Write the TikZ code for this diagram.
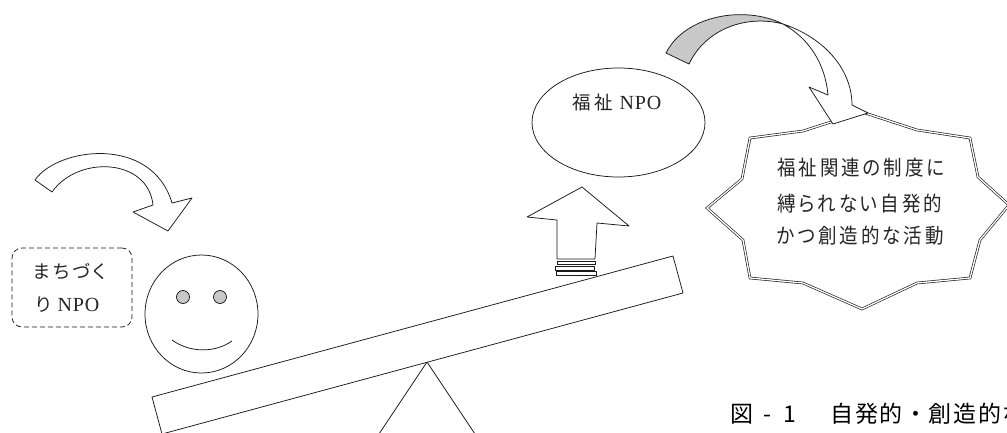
\documentclass[tikz,border=0pt]{standalone}
\usepackage{fontspec}
\newfontfamily\jp{Noto Sans CJK JP}[LetterSpace=16,RawFeature=+palt]
\newfontfamily\capfont{Noto Sans CJK JP}[LetterSpace=7]
\newfontfamily\lat{Liberation Serif}[LetterSpace=4]
\definecolor{shade}{RGB}{200,200,200}
\newcommand{\tall}[1]{\scalebox{1}[1.12]{#1}}
\begin{document}
\begin{tikzpicture}[x=1pt,y=-1pt,
  ln/.style={line width=0.75pt, draw=black!90, line join=round},
  dbl/.style={draw=black!90, line width=0.65pt, double=white, double distance=1.3pt, line join=miter},
  small/.style={inner sep=0pt, font=\jp\fontsize{18.5}{22}\selectfont, text=black!85},
]
\useasboundingbox (0,0) rectangle (1007,432);
\fill[white] (0,0) rectangle (1007,432);

% fulcrum and plank of the seesaw
\coordinate (apex) at (427,362);
\coordinate (legL) at (375,440);
\coordinate (legR) at (479,440);
\draw[ln] (legL) -- (apex) -- (legR);
\draw[ln, fill=white] (152,397) -- (673,256) -- (683,293) -- (162,434) -- cycle;

% smiling face
\draw[ln] (201.5,314) ellipse [x radius=56.5pt, y radius=59pt];
\draw[ln, fill=shade] (183,297) circle [radius=6.5pt];
\draw[ln, fill=shade] (220,297) circle [radius=6.5pt];
\draw[ln] (172,340) .. controls (190,353) and (215,353) .. (232,341);

% curved arrow over the face
\draw[ln, fill=white] (35,180) .. controls (58,147) and (152,135) .. (172,203)
  -- (192,198) -- (168,231) -- (133,212) -- (153,205)
  .. controls (148,158) and (78,155) .. (52,192) -- cycle;

% dashed label box
\node[draw=black!90, line width=0.75pt, dashed, dash pattern=on 5pt off 3pt,
      rounded corners=10pt, minimum width=120pt, minimum height=79pt] (mbox) at (72,287.5) {};
\node[small, anchor=west] (m1) at (33,271) {まちづく};
\node[small, anchor=west] (m2) at (35,305) {り {\fontsize{20}{22}\lat NPO}};

% rising striped arrow
\draw[ln, fill=white] (582,187) -- (629,226) -- (597,223) -- (595,259) -- (557,259) -- (557,220) -- (527,217) -- cycle;
\draw[ln, fill=white] (557,261) rectangle (595,264);
\draw[ln, fill=white] (555,266) rectangle (594,270);
\draw[ln, fill=white] (556,271.5) rectangle (596,275);

% welfare NPO ellipse
\draw[ln, fill=white] (618.5,122.5) ellipse [x radius=86.5pt, y radius=54.5pt];
\node[small] (npo) at (617,102) {福祉 {\fontsize{20}{22}\lat NPO}};

% burst bubble
\draw[dbl, fill=white] (862,112) -- (917,130) -- (970,138) -- (978,177) -- (1009,205)
  -- (980,240) -- (970,278) -- (917,283) -- (862,309) -- (803,283) -- (750,278)
  -- (743,240) -- (707,208) -- (742,179) -- (750,138) -- (803,131) -- cycle;
\node[small, anchor=west] (b1) at (777,168) {\tall{福祉関連の制度に}};
\node[small, anchor=west] (b2) at (777,204) {\tall{縛られない自発的}};
\node[small, anchor=west] (b3) at (777,236) {\tall{かつ創造的な活動}};

% twisted curved arrow: shaded back, white front with head
\draw[ln, fill=shade] (666,53) .. controls (685,15) and (745,5) .. (783,24)
  .. controls (745,14) and (705,30) .. (689,64) -- cycle;
\draw[ln, fill=white] (783,24) .. controls (825,38) and (852,70) .. (852,105)
  -- (868,113) -- (833,124) -- (809,87) -- (828,95)
  .. controls (825,62) and (808,38) .. (783,24) -- cycle;

% caption
\node[inner sep=0pt, anchor=west, font=\capfont\fontsize{23}{26}\selectfont, text=black] (cap)
  at (730,414) {図\kern10pt-\kern12pt1　\kern10pt自発的・創造的な};
\end{tikzpicture}
\end{document}
